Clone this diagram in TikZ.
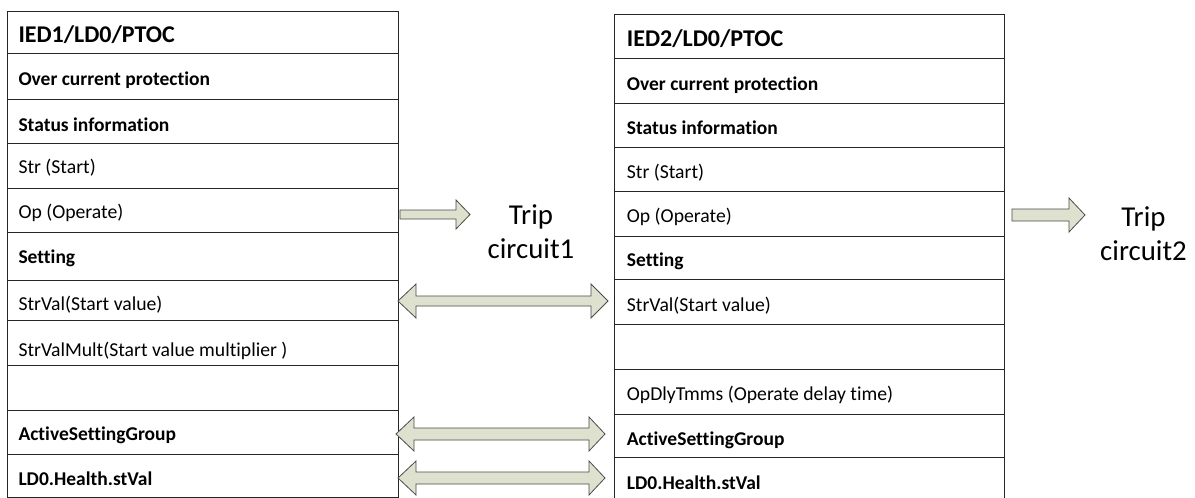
\documentclass[tikz,border=0pt]{standalone}
\usepackage{fontspec}
\setmainfont{Carlito}[Ligatures=NoCommon]
\begin{document}
\begin{tikzpicture}[x=1pt,y=-1pt,
  tbl/.style={draw=black!85, line width=1pt},
  cell/.style={anchor=base west, inner sep=0pt, font=\fontsize{19.7}{22}\selectfont},
  cellb/.style={cell, font=\fontsize{19.5}{22}\selectfont\bfseries},
  titl/.style={cell, font=\fontsize{24}{28}\selectfont\bfseries},
  trip/.style={anchor=base, inner sep=0pt, font=\fontsize{28.8}{32}\selectfont},
  blockarrow/.style={draw=black!70, fill=olivefill, line width=0.8pt, line join=miter}]
\definecolor{olivefill}{HTML}{DDE1CD}
\useasboundingbox (0,0) rectangle (1195,498);
\fill[white] (0,0) rectangle (1195,498);

% left table
\draw[tbl] (7.5,11) rectangle (398,497);
\foreach \yy in {53,99,143,188,232,280,320,365,410,454}
  \draw[tbl] (7.5,\yy) -- (398,\yy);
% right table
\draw[tbl] (614,499) -- (614,14) -- (1004,14) -- (1004,499);
\foreach \yy in {58,103,147,191,236,279,324,369,414,457}
  \draw[tbl] (614,\yy) -- (1004,\yy);

% left texts
\node[titl]  (l1)  at (18.3,42.7) {IED1/LD0/PTOC};
\node[cellb] (l2)  at (18.3,85)   {Over current protection};
\node[cellb] (l3)  at (18.3,131)  {Status information};
\node[cell]  (l4)  at (18.3,173)  {Str (Start)};
\node[cell]  (l5)  at (18.3,218)  {Op (Operate)};
\node[cellb] (l6)  at (18.3,263)  {Setting};
\node[cell]  (l7)  at (18.3,310)  {StrVal(Start value)};
\node[cell]  (l8)  at (18.3,356)  {StrValMult(Start value multiplier )};
\node[cellb] (l10) at (18.3,440)  {ActiveSettingGroup};
\node[cellb] (l11) at (18.3,485)  {LD0.Health.stVal};

% right texts
\node[titl]  (r1)  at (626.7,46.7)  {IED2/LD0/PTOC};
\node[cellb] (r2)  at (626.7,90.7)  {Over current protection};
\node[cellb] (r3)  at (626.7,134)   {Status information};
\node[cell]  (r4)  at (626.7,178)   {Str (Start)};
\node[cell]  (r5)  at (626.7,222.7) {Op (Operate)};
\node[cellb] (r6)  at (626.7,266.7) {Setting};
\node[cell]  (r7)  at (626.7,311.7) {StrVal(Start value)};
\node[cell]  (r9)  at (626.7,400)   {OpDlyTmms (Operate delay time)};
\node[cellb] (r10) at (626.7,445)   {ActiveSettingGroup};
\node[cellb] (r11) at (626.7,489)   {LD0.Health.stVal};

% trip labels
\node[trip] (t1a) at (531,224) {Trip};
\node[trip] (t1b) at (531,258) {circuit1};
\node[trip] (t2a) at (1143.5,226) {Trip};
\node[trip] (t2b) at (1143.5,260) {circuit2};

% single arrows
\draw[blockarrow] (400,210) -- (456,210) -- (456,200) -- (470,214.5) -- (456,229) -- (456,219) -- (400,219) -- cycle;
\draw[blockarrow] (1012,209) -- (1069,209) -- (1069,198) -- (1085,215) -- (1069,232) -- (1069,221) -- (1012,221) -- cycle;

% double arrows
\draw[blockarrow] (398,301) -- (416,284) -- (416,296) -- (591,296) -- (591,284) -- (608,301) -- (591,318) -- (591,306) -- (416,306) -- (416,318) -- cycle;
\draw[blockarrow] (396,434) -- (414,417) -- (414,428) -- (589,428) -- (589,417) -- (605,434) -- (589,451) -- (589,440) -- (414,440) -- (414,451) -- cycle;
\draw[blockarrow] (398,478) -- (416,461) -- (416,472) -- (589,472) -- (589,461) -- (605,478) -- (589,495) -- (589,484) -- (416,484) -- (416,495) -- cycle;
\end{tikzpicture}
\end{document}
